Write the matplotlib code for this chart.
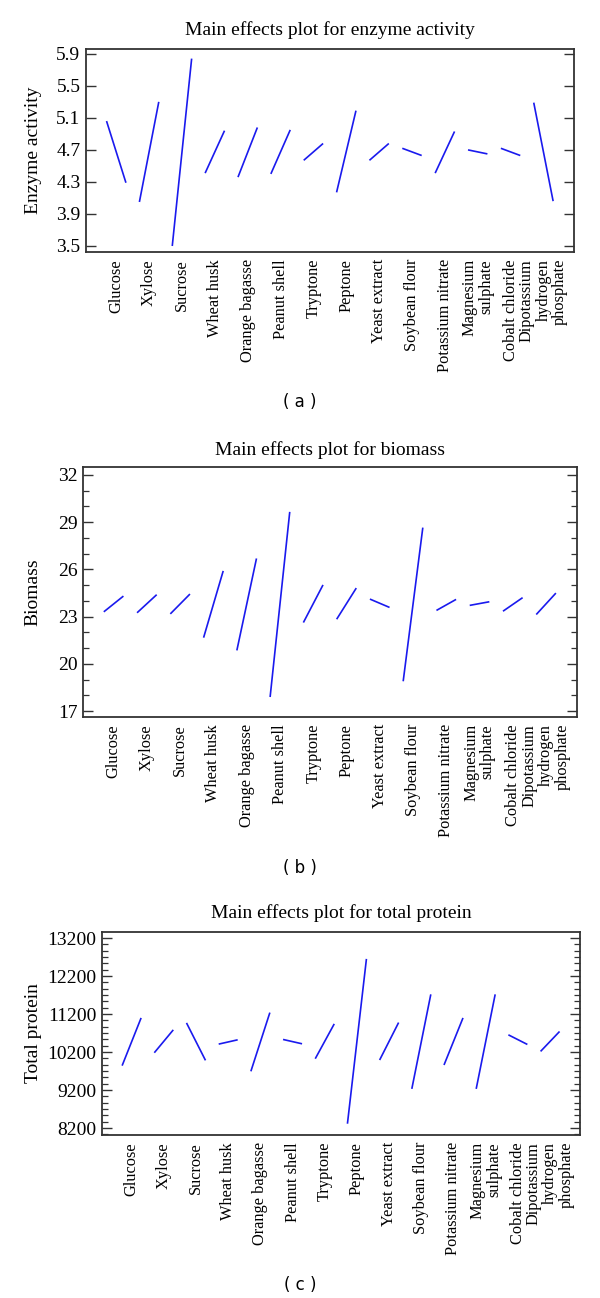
import matplotlib
matplotlib.use("Agg")
import matplotlib.pyplot as plt
from matplotlib.ticker import AutoMinorLocator
import numpy as np

factors = ["Glucose", "Xylose", "Sucrose", "Wheat husk", "Orange bagasse",
           "Peanut shell", "Tryptone", "Peptone", "Yeast extract", "Soybean flour",
           "Potassium nitrate", "Magnesium\nsulphate", "Cobalt chloride",
           "Dipotassium\nhydrogen\nphosphate"]

# low-level / high-level means for each factor
enzyme_low = [5.06, 4.05, 3.50, 4.41, 4.36, 4.40, 4.57, 4.17, 4.57, 4.72, 4.41, 4.70, 4.72, 5.29]
enzyme_high = [4.29, 5.30, 5.84, 4.94, 4.98, 4.95, 4.78, 5.19, 4.78, 4.63, 4.93, 4.65, 4.63, 4.06]

biomass_low = [23.30, 23.24, 23.17, 21.66, 20.85, 17.89, 22.62, 22.83, 24.11, 18.89, 23.39, 23.71, 23.34, 23.13]
biomass_high = [24.30, 24.39, 24.43, 25.90, 26.69, 29.65, 25.01, 24.81, 23.58, 28.65, 24.09, 23.94, 24.20, 24.49]

protein_low = [9841, 10181, 10966, 10408, 9692, 10530, 10024, 8313, 9989, 9230, 9858, 9230, 10652, 10216]
protein_high = [11097, 10783, 9980, 10521, 11237, 10416, 10940, 12650, 10975, 11717, 11097, 11717, 10399, 10740]

enzyme_ticks = [3.5, 3.9, 4.3, 4.7, 5.1, 5.5, 5.9]
biomass_ticks = [17, 20, 23, 26, 29, 32]
protein_ticks = [8200, 9200, 10200, 11200, 12200, 13200]

W, H = 600, 1298
fig = plt.figure(figsize=(W / 100, H / 100), dpi=100)

SERIF = ["Liberation Serif", "DejaVu Serif"]
LINE = "#1a1aee"


def rect(l, r, t, b):
    return [l / W, 1 - b / H, (r - l) / W, (b - t) / H]


panels = [
    dict(rect=rect(86, 574, 49, 252), low=enzyme_low, high=enzyme_high,
         ticks=enzyme_ticks, ylim=(3.425, 5.96), fmt="{:.1f}", minor=None,
         title="Main effects plot for enzyme activity", title_y=30,
         ylabel="Enzyme activity", tag="( a )", tag_y=402),
    dict(rect=rect(83, 577, 467, 717), low=biomass_low, high=biomass_high,
         ticks=biomass_ticks, ylim=(16.62, 32.5), fmt="{:d}", minor=3,
         title="Main effects plot for biomass", title_y=450,
         ylabel="Biomass", tag="( b )", tag_y=868),
    dict(rect=rect(102, 580, 932, 1135), low=protein_low, high=protein_high,
         ticks=protein_ticks, ylim=(8016, 13358), fmt="{:d}", minor=6,
         title="Main effects plot for total protein", title_y=913,
         ylabel="Total protein", tag="( c )", tag_y=1285),
]

half = 0.295
for p in panels:
    ax = fig.add_axes(p["rect"])
    x = np.arange(len(factors))
    for xi, lo, hi in zip(x, p["low"], p["high"]):
        ax.plot([xi - half, xi + half], [lo, hi], color=LINE, lw=1.2,
                solid_capstyle="butt")
    ax.set_xlim(-0.92, 13.93)
    ax.set_ylim(*p["ylim"])
    ax.set_yticks(p["ticks"])
    ax.set_yticklabels([p["fmt"].format(t) for t in p["ticks"]],
                       family=SERIF, fontsize=14)
    if p["minor"]:
        ax.yaxis.set_minor_locator(AutoMinorLocator(p["minor"]))
    ax.tick_params(axis="y", which="major", direction="in", length=7,
                   width=1.0, left=True, right=True, pad=4, color="#333333")
    ax.tick_params(axis="y", which="minor", direction="in", length=4,
                   width=0.9, left=True, right=True, color="#333333")
    ax.set_xticks(x)
    ax.set_xticklabels(factors, rotation=90, family=SERIF, fontsize=11.8,
                       va="top", ha="center", multialignment="right",
                       linespacing=1.05)
    ax.tick_params(axis="x", which="both", length=0, pad=5)
    for s in ax.spines.values():
        s.set_linewidth(1.3)
        s.set_color("#333333")
    fig.text((p["rect"][0] + p["rect"][2] / 2), 1 - p["title_y"] / H, p["title"],
             ha="center", va="center", family=SERIF, fontsize=14)
    fig.text(33 / W, p["rect"][1] + p["rect"][3] / 2, p["ylabel"], rotation=90,
             ha="center", va="center", family=SERIF, fontsize=14)
    fig.text(300 / W, 1 - p["tag_y"] / H, p["tag"], ha="center", va="center",
             family=["DejaVu Sans"], fontsize=12)

fig.savefig("out.png", dpi=100)
